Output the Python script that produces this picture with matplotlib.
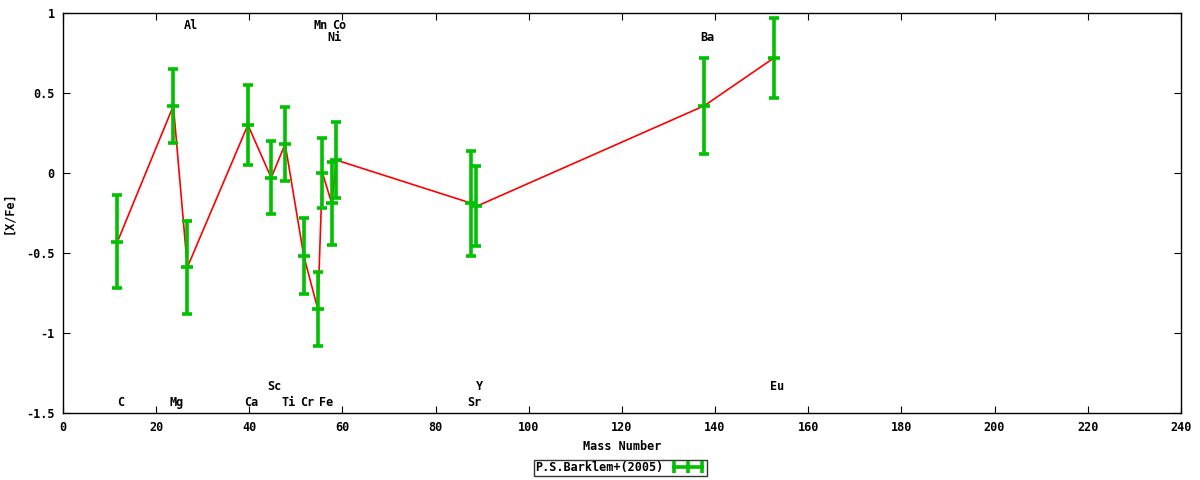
import matplotlib
matplotlib.use("Agg")
import matplotlib.pyplot as plt
from matplotlib.lines import Line2D
import numpy as np

# element, mass number, [X/Fe], error
elements = ['C', 'Mg', 'Al', 'Ca', 'Sc', 'Ti', 'Cr', 'Mn', 'Fe', 'Ni', 'Co', 'Sr', 'Y', 'Ba', 'Eu']
mass = [12, 24, 27, 40, 45, 48, 52, 55, 56, 58, 59, 88, 89, 138, 153]
xfe = [-0.43, 0.42, -0.59, 0.30, -0.03, 0.18, -0.52, -0.85, 0.00, -0.19, 0.08, -0.19, -0.21, 0.42, 0.72]
err = [0.29, 0.23, 0.29, 0.25, 0.23, 0.23, 0.24, 0.23, 0.22, 0.26, 0.24, 0.33, 0.25, 0.30, 0.25]

# label heights (data coords) for element names
label_y = [-1.435, -1.435, 0.92, -1.435, -1.335, -1.435, -1.435, 0.92, -1.435, 0.845, 0.92, -1.435, -1.335, 0.845, -1.335]

GREEN = '#00c000'
RED = '#ff0000'
FS = 8.5

plt.rcParams['font.family'] = ['DejaVu Sans Mono']
plt.rcParams['font.weight'] = 'bold'
plt.rcParams['font.size'] = FS

fig = plt.figure(figsize=(12, 4.8), dpi=100)
ax = fig.add_axes([0.0525, 0.14, 0.9315, 0.833])

ax.plot(np.array(mass) - 0.3, xfe, color=RED, lw=1.2, zorder=2)
ax.errorbar(np.array(mass) - 0.3, xfe, yerr=err, fmt='_', color=GREEN, ecolor=GREEN,
            elinewidth=2.6, capsize=3.8, capthick=2.6, ms=8, mew=2.6, zorder=3)

for name, m, ly in zip(elements, mass, label_y):
    ax.text(m + 0.4, ly, name, ha='center', va='center', fontsize=FS, fontweight='bold')

ax.set_xlim(0, 240)
ax.set_ylim(-1.5, 1)
ax.set_xticks(np.arange(0, 241, 20))
ax.set_yticks([-1.5, -1, -0.5, 0, 0.5, 1])
ax.set_yticklabels(['-1.5', '-1', '-0.5', '0', '0.5', '1'])
ax.tick_params(direction='in', top=True, right=True, length=5, width=0.8, labelsize=FS, pad=6)
for s in ax.spines.values():
    s.set_linewidth(1.0)

ax.set_xlabel('Mass Number', fontsize=FS, fontweight='bold', labelpad=4)
ax.set_ylabel('[X/Fe]', fontsize=FS, fontweight='bold', labelpad=8)

handle = Line2D([], [], color=GREEN, lw=2.6, marker='|', ms=9, mew=2.6)
leg = fig.legend([handle], ['P.S.Barklem+(2005)'], loc='center', bbox_to_anchor=(0.517, 0.025),
                 numpoints=3, frameon=True, fancybox=False, handlelength=3.0,
                 borderpad=0.12, handletextpad=0.6, markerfirst=False, fontsize=FS)
leg.get_frame().set_edgecolor('black')
leg.get_frame().set_linewidth(1.0)

fig.savefig('out.png', dpi=100)
